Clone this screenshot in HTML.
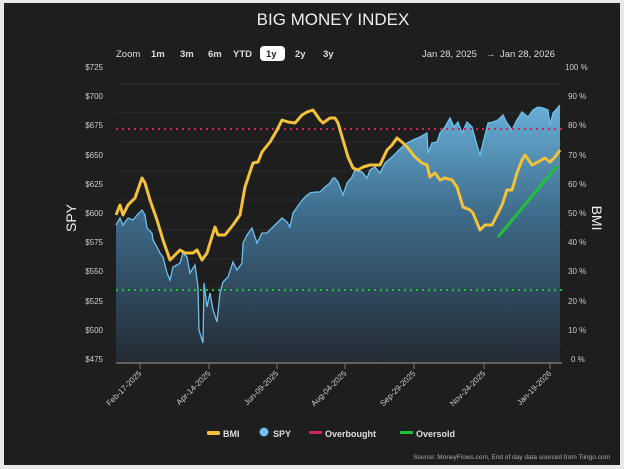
<!DOCTYPE html>
<html><head><meta charset="utf-8"><style>
html,body{margin:0;padding:0;background:#e8e8e8;}
svg{display:block;font-family:"Liberation Sans",sans-serif;}
</style></head><body>
<svg width="624" height="469" viewBox="0 0 624 469" xmlns="http://www.w3.org/2000/svg">
<defs>
<linearGradient id="g" x1="0" y1="100" x2="0" y2="362" gradientUnits="userSpaceOnUse">
<stop offset="0" stop-color="#6ab2dc"/>
<stop offset="0.45" stop-color="#3d6a88"/>
<stop offset="1" stop-color="#232a33"/>
</linearGradient>
</defs>
<rect x="4" y="3" width="616" height="462" fill="#1e1e1e"/>
<text x="333" y="25" fill="#eeeeee" font-size="17" text-anchor="middle">BIG MONEY INDEX</text>
<g font-size="9.5" fill="#dddddd">
<text x="116" y="57">Zoom</text>
<g font-weight="bold"><text x="151" y="57">1m</text><text x="180" y="57">3m</text><text x="208" y="57">6m</text><text x="233" y="57">YTD</text>
<rect x="260" y="46" width="25" height="15" rx="4" fill="#ffffff"/><text x="266" y="57" fill="#222">1y</text>
<text x="295" y="57">2y</text><text x="323" y="57">3y</text></g>
<text x="422" y="57">Jan 28, 2025</text><text x="486" y="57">→</text><text x="500" y="57">Jan 28, 2026</text>
</g>
<g stroke="#2c2c2c" stroke-width="1">
<line x1="116" x2="562" y1="84" y2="84"/><line x1="116" x2="562" y1="113" y2="113"/><line x1="116" x2="562" y1="142" y2="142"/><line x1="116" x2="562" y1="171" y2="171"/><line x1="116" x2="562" y1="200" y2="200"/><line x1="116" x2="562" y1="230" y2="230"/><line x1="116" x2="562" y1="259" y2="259"/><line x1="116" x2="562" y1="288" y2="288"/><line x1="116" x2="562" y1="317" y2="317"/><line x1="116" x2="562" y1="346" y2="346"/>
</g>
<g font-size="8" fill="#cccccc" text-anchor="end">
<text x="103" y="70">$725</text><text x="103" y="99">$700</text><text x="103" y="128">$675</text><text x="103" y="158">$650</text><text x="103" y="187">$625</text><text x="103" y="216">$600</text><text x="103" y="245">$575</text><text x="103" y="274">$550</text><text x="103" y="304">$525</text><text x="103" y="333">$500</text><text x="103" y="362">$475</text>
</g>
<g font-size="8" fill="#cccccc">
<text x="565" y="70">100 %</text><text x="568" y="99">90 %</text><text x="568" y="128">80 %</text><text x="568" y="158">70 %</text><text x="568" y="187">60 %</text><text x="568" y="216">50 %</text><text x="568" y="245">40 %</text><text x="568" y="274">30 %</text><text x="568" y="304">20 %</text><text x="568" y="333">10 %</text><text x="571" y="362">0 %</text>
</g>
<text transform="translate(76,218) rotate(-90)" fill="#eeeeee" font-size="14" text-anchor="middle">SPY</text>
<text transform="translate(592,218) rotate(90)" fill="#eeeeee" font-size="14" text-anchor="middle">BMI</text>
<path fill="url(#g)" stroke="none" d="M116,225 L120,218 123,225 128,218 133,220 137,215 142,210 145,215 147,228 152,233 153,240 157,247 160,253 163,257 167,273 170,280 173,267 177,265 180,263 183,253 187,257 190,273 195,265 198,287 199,330 203,343 204,283 207,307 210,293 213,310 217,322 220,293 223,282 228,277 233,262 237,270 242,263 243,243 247,235 252,228 257,243 262,233 267,233 272,228 277,223 282,218 287,222 290,227 293,213 300,203 305,197 310,193 315,192 320,192 325,187 330,183 333,178 335,178 338,182 343,195 347,183 352,177 355,170 362,172 367,178 370,170 375,167 380,173 385,163 392,157 397,152 402,147 407,143 413,140 420,137 427,133 428,153 432,143 437,142 440,133 445,127 450,118 454,127 458,122 462,133 467,122 472,127 477,145 480,155 483,143 488,123 493,122 498,120 503,115 507,123 512,130 517,120 522,112 528,117 533,110 538,107 543,108 548,110 550,125 553,113 560,105 L560,362 L116,362 Z"/>
<polyline fill="none" stroke="#6cc0ee" stroke-width="1.3" points="116,225 120,218 123,225 128,218 133,220 137,215 142,210 145,215 147,228 152,233 153,240 157,247 160,253 163,257 167,273 170,280 173,267 177,265 180,263 183,253 187,257 190,273 195,265 198,287 199,330 203,343 204,283 207,307 210,293 213,310 217,322 220,293 223,282 228,277 233,262 237,270 242,263 243,243 247,235 252,228 257,243 262,233 267,233 272,228 277,223 282,218 287,222 290,227 293,213 300,203 305,197 310,193 315,192 320,192 325,187 330,183 333,178 335,178 338,182 343,195 347,183 352,177 355,170 362,172 367,178 370,170 375,167 380,173 385,163 392,157 397,152 402,147 407,143 413,140 420,137 427,133 428,153 432,143 437,142 440,133 445,127 450,118 454,127 458,122 462,133 467,122 472,127 477,145 480,155 483,143 488,123 493,122 498,120 503,115 507,123 512,130 517,120 522,112 528,117 533,110 538,107 543,108 548,110 550,125 553,113 560,105"/>
<line x1="116" x2="562" y1="129" y2="129" stroke="#d0245a" stroke-width="2" stroke-dasharray="2,4"/>
<line x1="116" x2="562" y1="290" y2="290" stroke="#22c03a" stroke-width="2" stroke-dasharray="2,4"/>
<polyline fill="none" stroke="#f3c13a" stroke-width="3" stroke-linejoin="round" points="116,215 120,205 123,215 128,205 135,198 142,178 145,183 150,200 157,220 163,240 170,260 177,253 180,250 185,253 193,253 197,250 202,260 207,253 210,243 215,227 218,235 225,235 233,225 240,215 245,187 248,178 253,163 258,162 262,152 270,142 277,130 282,120 288,122 295,123 302,115 307,112 313,110 320,120 323,123 330,118 335,118 338,123 343,140 348,157 353,168 358,170 363,167 370,165 380,165 387,150 392,145 397,138 402,142 408,148 415,157 422,163 427,165 430,177 435,173 440,180 445,178 452,180 457,187 463,207 470,210 473,213 480,230 485,225 492,225 497,215 502,205 507,190 512,190 517,173 522,160 525,155 532,165 538,162 545,158 550,162 555,157 560,150"/>
<line x1="498" y1="237" x2="557" y2="166" stroke="#22c03a" stroke-width="3"/>
<line x1="116" x2="562" y1="363" y2="363" stroke="#777" stroke-width="1.5"/>
<g stroke="#777"><line x1="140" x2="140" y1="363" y2="369"/><line x1="209" x2="209" y1="363" y2="369"/><line x1="277" x2="277" y1="363" y2="369"/><line x1="345" x2="345" y1="363" y2="369"/><line x1="414" x2="414" y1="363" y2="369"/><line x1="484" x2="484" y1="363" y2="369"/><line x1="550" x2="550" y1="363" y2="369"/></g>
<g font-size="8" fill="#cccccc" text-anchor="end">
<text transform="translate(142,374) rotate(-45)">Feb-17-2025</text>
<text transform="translate(211,374) rotate(-45)">Apr-14-2025</text>
<text transform="translate(279,374) rotate(-45)">Jun-09-2025</text>
<text transform="translate(347,374) rotate(-45)">Aug-04-2025</text>
<text transform="translate(416,374) rotate(-45)">Sep-29-2025</text>
<text transform="translate(486,374) rotate(-45)">Nov-24-2025</text>
<text transform="translate(552,374) rotate(-45)">Jan-19-2026</text>
</g>
<g font-size="9" font-weight="bold" fill="#dddddd">
<rect x="207" y="431" width="13" height="4" rx="1.5" fill="#f3c13a"/><text x="223" y="437">BMI</text>
<circle cx="264" cy="432" r="4.5" fill="#6cc0ee"/><text x="273" y="437">SPY</text>
<rect x="309" y="431" width="13" height="3" fill="#d0245a"/><text x="325" y="437">Overbought</text>
<rect x="400" y="431" width="13" height="3" fill="#22c03a"/><text x="416" y="437">Oversold</text>
</g>
<text x="610" y="459" font-size="6.5" fill="#aaaaaa" text-anchor="end">Source: MoneyFlows.com, End of day data sourced from Tiingo.com</text>
</svg>
</body></html>
